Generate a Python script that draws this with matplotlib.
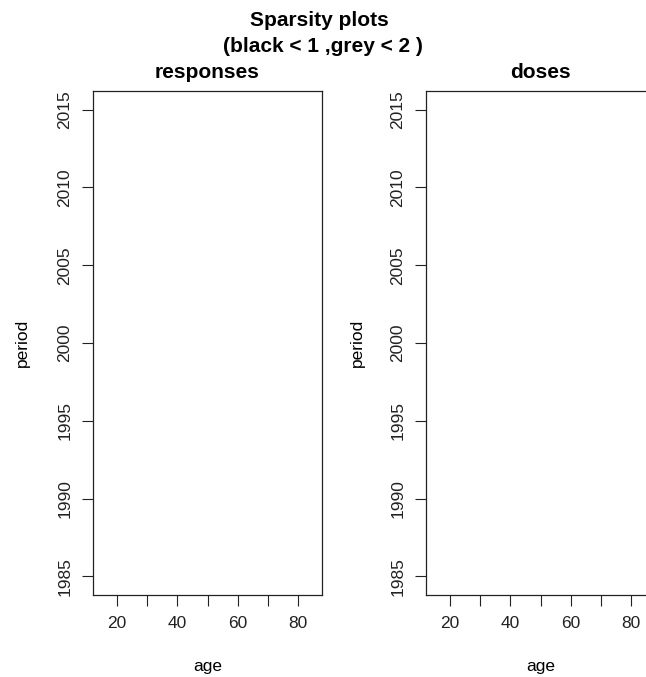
import numpy as np
import matplotlib
matplotlib.use("Agg")
import matplotlib.pyplot as plt

plt.rcParams["font.family"] = ["Liberation Sans", "DejaVu Sans"]

# data range of the sparsity grid (no cells fall below the thresholds)
ages = np.array([15, 85])
periods = np.array([1985, 2015])
panels = ["responses", "doses"]
age_ticks = [20, 30, 40, 50, 60, 70, 80]
age_labels = ["20", "", "40", "", "60", "", "80"]
period_ticks = [1985, 1990, 1995, 2000, 2005, 2010, 2015]
# cells with value < 1 (black) and < 2 (grey): none in this data
sparse_black = {"responses": ([], []), "doses": ([], [])}
sparse_grey = {"responses": ([], []), "doses": ([], [])}


def r_limits(v, ext=0.04):
    span = v.max() - v.min()
    return v.min() - ext * span, v.max() + ext * span


W, H = 646, 677
fig = plt.figure(figsize=(W / 100, H / 100), dpi=100)

lefts = [93, 426]
ylab_x = [22, 357]
for left, lx, name in zip(lefts, ylab_x, panels):
    ax = fig.add_axes([left / W, 1 - 595 / H, 229 / W, 504 / H])
    gx, gy = sparse_grey[name]
    bx, by = sparse_black[name]
    ax.scatter(gx, gy, color="grey", marker="s")
    ax.scatter(bx, by, color="black", marker="s")

    ax.set_xlim(*r_limits(ages))
    ax.set_ylim(*r_limits(periods))
    ax.set_xticks(age_ticks)
    ax.set_xticklabels(age_labels)
    ax.set_yticks(period_ticks)
    ax.set_yticklabels([str(p) for p in period_ticks], rotation=90, va="center")
    ax.tick_params(length=8, width=0.8, labelsize=12.5, pad=7, colors="#222222")
    for s in ax.spines.values():
        s.set_linewidth(0.9)
        s.set_color("#222222")

    ax.set_title(name, fontsize=15, fontweight="bold", y=1 + 18 / 504, va="center", pad=0)
    ax.set_xlabel("age", fontsize=12.5, va="center")
    ax.xaxis.set_label_coords(0.5, -(667 - 595) / 504)
    ax.set_ylabel("period", fontsize=12.5, va="center")
    ax.yaxis.set_label_coords((lx - left) / 229, 0.5)

fig.text(0.494, 1 - 21 / H, "Sparsity plots", ha="center", va="center",
         fontsize=15, fontweight="bold")
fig.text(0.5, 1 - 46 / H, "(black < 1 ,grey < 2 )", ha="center", va="center",
         fontsize=15, fontweight="bold")

fig.savefig("out.png", dpi=100, facecolor="white")
